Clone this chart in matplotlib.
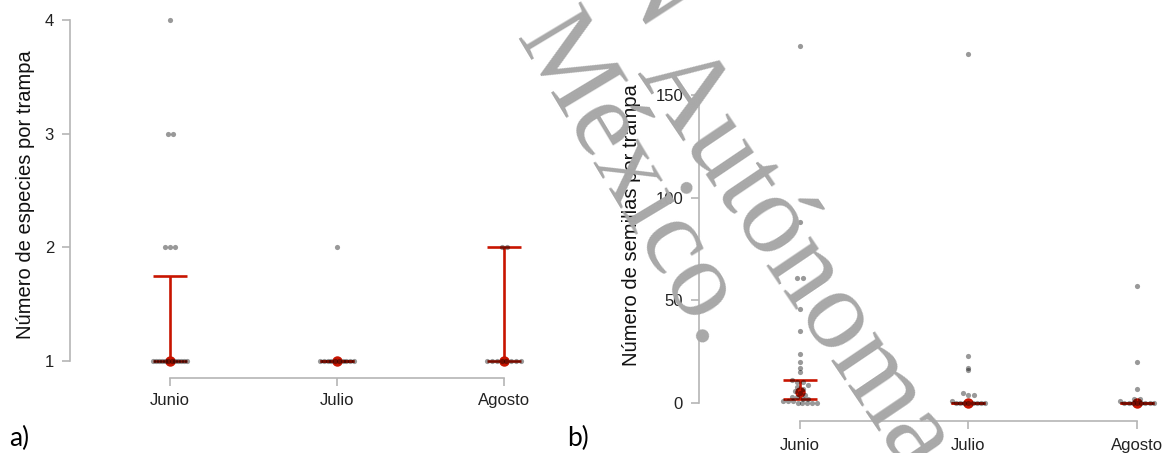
import matplotlib
matplotlib.use('Agg')
import matplotlib.pyplot as plt
import numpy as np

# datos por trampa, tres meses de muestreo
meses = ['Junio', 'Julio', 'Agosto']

especies_junio = [1, 1, 1, 1, 1, 1, 1, 1, 1, 1, 1, 1, 2, 2, 2, 3, 3, 4]
especies_julio = [1, 1, 1, 1, 1, 1, 1, 1, 1, 1, 2]
especies_agosto = [1, 1, 1, 1, 1, 1, 1, 1, 2, 2]
especies_centro = [1, 1, 1]
especies_inf = [1, 1, 1]
especies_sup = [1.75, 1, 2]

semillas_junio = [174, 88, 61, 61, 46, 35, 24, 20, 17, 15, 11, 10, 10, 9, 8, 7, 6, 5,
                  4, 3, 3, 2, 2, 1, 1, 1, 0, 0, 0, 0, 0]
semillas_julio = [170, 23, 17, 16, 5, 4, 4, 1, 0, 0, 0, 0, 0, 0, 0, 0]
semillas_agosto = [57, 20, 7, 2, 2, 1, 0, 0, 0, 0, 0, 0, 0, 0]
semillas_centro = [5.5, 0, 0]
semillas_inf = [2, 0, 0]
semillas_sup = [11, 0, 0]

rojo = '#c81400'
gris_eje = '#b5b5b5'

plt.rcParams['font.family'] = ['Liberation Sans', 'DejaVu Sans']


def reparto(valores, paso):
    # separa horizontalmente los puntos que caen en el mismo nivel
    valores = np.asarray(valores, dtype=float)
    niveles = np.round(valores / paso)
    dx = np.zeros(len(valores))
    for nv in np.unique(niveles):
        idx = np.where(niveles == nv)[0]
        n = len(idx)
        if n > 1:
            w = min(0.1, 0.015 * (n - 1))
            dx[idx] = np.linspace(-w, w, n)
    return dx


def panel(ax, grupos, centro, inf, sup, paso):
    x = np.arange(1, len(grupos) + 1)
    centro = np.array(centro, dtype=float)
    ax.errorbar(x, centro, yerr=[centro - np.array(inf), np.array(sup) - centro],
                fmt='o', color=rojo, ms=6.5, elinewidth=1.9, capsize=12.5,
                capthick=1.9, zorder=2)
    for i, vals in enumerate(grupos):
        ax.scatter(x[i] + reparto(vals, paso), vals, s=14, color='black',
                   alpha=0.4, linewidths=0, zorder=3)
    for lado in ['top', 'right']:
        ax.spines[lado].set_visible(False)
    for lado in ['left', 'bottom']:
        ax.spines[lado].set_color(gris_eje)
        ax.spines[lado].set_linewidth(1.2)
    ax.spines['bottom'].set_bounds(1, 3)
    ax.set_xticks(x)
    ax.set_xticklabels(meses)
    ax.tick_params(colors=gris_eje, labelcolor='#222222', labelsize=12,
                   length=5.5, width=1.2)
    ax.tick_params(axis='y', pad=6)
    ax.tick_params(axis='x', pad=5)
    ax.set_facecolor('none')


fig = plt.figure(figsize=(11.65, 4.53), dpi=100)

ax1 = fig.add_axes([0.0601, 0.1656, 0.4012, 0.8104])
panel(ax1, [especies_junio, especies_julio, especies_agosto],
      especies_centro, especies_inf, especies_sup, 0.05)
ax1.set_xlim(0.4012, 3.2)
ax1.set_ylim(0.8504, 4.08)
ax1.set_yticks([1, 2, 3, 4])
ax1.spines['left'].set_bounds(1, 4)
ax1.set_ylabel('Número de especies por trampa', fontsize=14.5, color='#111111')
ax1.yaxis.set_label_coords(-0.075, 0.5)

ax2 = fig.add_axes([0.6, 0.0706, 0.3991, 0.8647])
panel(ax2, [semillas_junio, semillas_julio, semillas_agosto],
      semillas_centro, semillas_inf, semillas_sup, 2.5)
ax2.set_xlim(0.4006, 3.16)
ax2.set_ylim(-8.766, 182)
ax2.set_yticks([0, 50, 100, 150])
ax2.spines['left'].set_bounds(0, 150)
ax2.tick_params(axis='x', pad=7)
ax2.set_ylabel('Número de semillas por trampa', fontsize=14.5, color='#111111')
ax2.yaxis.set_label_coords(-0.125, 0.5)

fig.text(9 / 1165, 1 - 438 / 453, 'a)', fontsize=19, family='Lato', va='center')
fig.text(567 / 1165, 1 - 438 / 453, 'b)', fontsize=19, family='Lato', va='center')

# marca de agua
marca = dict(family='Liberation Serif', color='#a8a8a8', rotation_mode='anchor',
             zorder=10)
fig.text(514 / 1165, 1 - 38 / 453, 'México.', fontsize=80, rotation=-59,
         ha='left', va='baseline', **marca)
fig.text(636 / 1165, 1 - 73 / 453, 'Autónoma', fontsize=83, rotation=-56,
         ha='left', va='baseline', **marca)
fig.text(650 / 1165, 1 + 12 / 453, 'N', fontsize=80, rotation=-57,
         ha='center', va='center', **marca)

fig.savefig('out.png', dpi=100)
